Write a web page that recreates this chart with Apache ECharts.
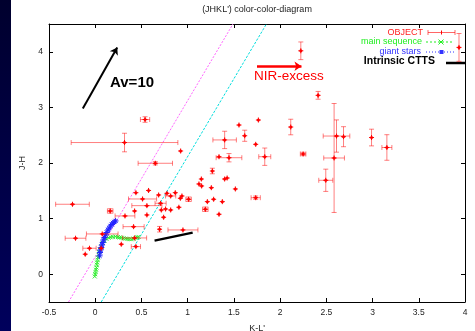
<!DOCTYPE html>
<html><head><meta charset="utf-8">
<script src="https://cdn.jsdelivr.net/npm/echarts@6/dist/echarts.min.js"></script>
<style>html,body{margin:0;padding:0;background:#fff}#c{width:475px;height:331px}</style>
</head><body><div id="c"></div>
<script>
// ---- data ----
const objX    = [0.317,0.924,0.539,0.650,-0.246,0.162,0.440,0.577,0.686,0.776,0.559,0.512,1.400,1.555,1.765,1.617,1.736,1.834,1.447,1.339,1.267,1.148,1.122,1.151,1.256,1.400,1.427,1.516,1.213,1.281,1.375,1.191,1.339,1.736,0.866,0.921,0.938,1.010,0.715,0.761,0.816,0.905,0.559,0.740,0.696,0.949,0.415,0.322,0.076,-0.213,-0.062,-0.108,0.065,0.282,0.440,0.426,2.224,3.935,2.411,2.115,2.249,2.610,2.686,2.584,2.494,2.989,3.155,0.426,0.707,0.816];
const objY    = [2.368,2.216,2.782,1.995,1.258,1.137,1.466,1.506,1.425,1.455,1.233,1.353,2.415,2.683,2.773,2.490,2.336,2.113,2.095,2.113,1.856,1.712,1.623,1.587,1.556,1.712,1.730,1.533,1.305,1.348,1.305,1.168,1.078,1.376,1.466,1.366,1.407,1.348,1.155,1.173,1.155,1.204,1.066,1.024,0.809,0.796,0.855,1.048,0.724,0.647,0.467,0.360,0.467,0.539,0.496,0.652,4.018,4.079,3.217,2.647,2.162,2.485,2.473,2.090,1.689,2.458,2.279,1.137,1.276,1.407];
const objXErr = [0.577,0,0.050,0.186,0.182,0.030,0,0,0,0,0.163,0.152,0.127,0,0,0,0,0.065,0.139,0,0,0,0,0,0,0,0,0,0,0,0,0.030,0,0.050,0,0,0,0.030,0,0,0,0,0,0,0,0.162,0.114,0.107,0.171,0.112,0.072,0,0,0,0.050,0.130,0,0,0,0,0.030,0.144,0,0.112,0.076,0,0.054,0,0.060,0.055];
const objYErr = [0.167,0,0.050,0.030,0,0.040,0,0,0,0,0,0,0.156,0,0,0.100,0,0.156,0.075,0,0.050,0,0,0,0,0,0,0,0,0,0,0.040,0,0.030,0,0,0,0.040,0,0,0,0,0,0,0.050,0,0,0,0,0,0,0,0,0,0,0,0.159,0.250,0.070,0.140,0.030,0.290,0.180,0.980,0.200,0.150,0.230,0,0,0];

const msX = [-0.005,0.000,0.004,0.009,0.013,0.017,0.021,0.025,0.030,0.036,0.042,0.050,0.065,0.080,0.100,0.122,0.145,0.166,0.190,0.220,0.245,0.263,0.285,0.307,0.330,0.350,0.372,0.393,0.415,0.436,0.455,0.469];
const msY = [-0.040,0.000,0.040,0.080,0.120,0.170,0.210,0.260,0.300,0.350,0.400,0.440,0.500,0.560,0.600,0.635,0.655,0.665,0.672,0.676,0.668,0.661,0.654,0.647,0.640,0.634,0.631,0.629,0.640,0.652,0.662,0.670];

const giantX = [0.047,0.052,0.057,0.065,0.074,0.082,0.090,0.100,0.112,0.125,0.139,0.152,0.166,0.180,0.193,0.207,0.220];
const giantY = [0.330,0.390,0.437,0.480,0.527,0.570,0.616,0.660,0.706,0.750,0.796,0.830,0.868,0.895,0.922,0.940,0.958];

const redMagX = [-0.289,1.490], redMagY = [-0.5,4.5];
const redCyanX = [0.065,1.852], redCyanY = [-0.5,4.5];
const cttsX = [0.642,1.054], cttsY = [0.604,0.748];
const avArrowX = [-0.134,0.238], avArrowY = [2.982,4.078];
const nirArrowX = [1.750,2.231], nirArrowY = [3.740,3.740];
const yTickValues = [0,1,2,3,4];

// ---- chart ----
const FONT = 'Liberation Sans, Arial, Helvetica, sans-serif';
const chart = echarts.init(document.getElementById('c'), null, {renderer:'canvas'});
const zip = (a,b) => a.map((v,i)=>[v,b[i]]);
const objData = objX.map((v,i)=>[v,objY[i],objXErr[i],objYErr[i]]);

function renderObj(params, api){
  const x=api.value(0), y=api.value(1), ex=api.value(2), ey=api.value(3);
  const c=api.coord([x,y]);
  const es={stroke:'rgba(255,0,0,0.5)', lineWidth:1};
  const cap=2.5, ch=[];
  const L=(x1,y1,x2,y2,s)=>ch.push({type:'line',shape:{x1,y1,x2,y2},style:s});
  if(ex>0){const l=api.coord([x-ex,y]), r=api.coord([x+ex,y]);
    L(l[0],l[1],r[0],r[1],es); L(l[0],l[1]-cap,l[0],l[1]+cap,es); L(r[0],r[1]-cap,r[0],r[1]+cap,es);}
  if(ey>0){const t=api.coord([x,y+ey]), b=api.coord([x,y-ey]);
    L(t[0],t[1],b[0],b[1],es); L(t[0]-cap,t[1],t[0]+cap,t[1],es); L(b[0]-cap,b[1],b[0]+cap,b[1],es);}
  const ps={stroke:'#ff0000', lineWidth:1};
  L(c[0]-2.5,c[1],c[0]+2.5,c[1],ps); L(c[0],c[1]-2.5,c[0],c[1]+2.5,ps);
  ch.push({type:'circle',shape:{cx:c[0],cy:c[1],r:1.5},style:{fill:'#ff0000'}});
  return {type:'group',children:ch};
}

const X_PATH='path://M0,0L10,10M10,0L0,10';
const AST_PATH='path://M5,0L5,10M0,5L10,5M1.5,1.5L8.5,8.5M8.5,1.5L1.5,8.5';

const axisCommon = {
  axisLine:{show:true,onZero:false,lineStyle:{color:'#000',width:1}},
  axisTick:{show:true,inside:true,length:4,lineStyle:{color:'#000'}},
  splitLine:{show:false},
};

const option = {
  animation:false,
  backgroundColor:'#ffffff',
  grid:{left:49,top:24,width:416,height:278,containLabel:false,outerBoundsMode:'none'},
  xAxis:[
    Object.assign({type:'value',min:-0.5,max:4,interval:0.5,position:'bottom',
      name:"K-L'",nameLocation:'middle',nameGap:22,
      nameTextStyle:{fontFamily:FONT,fontSize:9,color:'#222'},
      axisLabel:{fontFamily:FONT,fontSize:8.5,color:'#222',margin:6,showMinLabel:true,showMaxLabel:true}},axisCommon),
    Object.assign({type:'value',min:-0.5,max:4,interval:0.5,position:'top',axisLabel:{show:false}},axisCommon)
  ],
  yAxis:[
    Object.assign({type:'value',min:-0.5,max:4.5,position:'left',
      name:'J-H',nameLocation:'middle',nameGap:22,nameRotate:90,
      nameTextStyle:{fontFamily:FONT,fontSize:9,color:'#222'},
      axisLabel:{fontFamily:FONT,fontSize:8.5,color:'#222',margin:6,customValues:yTickValues},
      },axisCommon,{axisTick:{show:true,inside:true,length:4,lineStyle:{color:'#000'},customValues:yTickValues}}),
    Object.assign({type:'value',min:-0.5,max:4.5,position:'right',axisLabel:{show:false}},
      axisCommon,{axisTick:{show:true,inside:true,length:4,lineStyle:{color:'#000'},customValues:yTickValues}})
  ],
  series:[
    {type:'line',data:zip(redMagX,redMagY),symbol:'none',silent:true,
      lineStyle:{color:'#ff66ff',width:1,type:[2,1.5]},z:1},
    {type:'line',data:zip(redCyanX,redCyanY),symbol:'none',silent:true,
      lineStyle:{color:'#00dddd',width:1,type:[2.5,1.5]},z:1},
    {type:'line',data:zip(msX,msY),symbol:X_PATH,symbolSize:4,showAllSymbol:true,
      itemStyle:{color:'none',borderColor:'#33ee33',borderWidth:1},
      lineStyle:{color:'#33ee33',width:1,type:'dashed'},z:3},
    {type:'line',data:zip(giantX,giantY),symbol:AST_PATH,symbolSize:6,showAllSymbol:true,
      itemStyle:{color:'none',borderColor:'#2222ff',borderWidth:1},
      lineStyle:{color:'#2222ff',width:1,type:'dotted'},z:4},
    {type:'custom',renderItem:renderObj,data:objData,clip:true,z:5,
      encode:{x:0,y:1}},
    {type:'line',data:zip(cttsX,cttsY),symbol:'none',lineStyle:{color:'#000',width:2.5},z:6},
    {type:'lines',coordinateSystem:'cartesian2d',symbol:['none','arrow'],symbolSize:7,z:7,
      lineStyle:{color:'#000',width:2,opacity:1},
      data:[{coords:zip(avArrowX,avArrowY)}]},
    {type:'lines',coordinateSystem:'cartesian2d',symbol:['none','arrow'],symbolSize:7,z:7,
      lineStyle:{color:'#ff0000',width:2.5,opacity:1},
      data:[{coords:zip(nirArrowX,nirArrowY)}]}
  ],
  graphic:[
    {type:'rect',left:0,top:0,shape:{width:11,height:331},z:100,
      style:{fill:new echarts.graphic.LinearGradient(0,0,0,1,[{offset:0,color:'#00002e'},{offset:1,color:'#00005c'}])}},
    {type:'text',x:257,y:10,z:100,style:{text:"(JHKL') color-color-diagram",font:'9px '+FONT,fill:'#222',textAlign:'center',textVerticalAlign:'middle'}},
    {type:'text',x:110,y:83,z:100,style:{text:'Av=10',font:'bold 15px '+FONT,fill:'#000',textAlign:'left',textVerticalAlign:'middle'}},
    {type:'text',x:254,y:76,z:100,style:{text:'NIR-excess',font:'13.5px '+FONT,fill:'#ff0000',textAlign:'left',textVerticalAlign:'middle'}},
    // legend
    {type:'text',x:423,y:32.5,z:100,style:{text:'OBJECT',font:'9px '+FONT,fill:'#ff2020',textAlign:'right',textVerticalAlign:'middle'}},
    {type:'text',x:422,y:42,z:100,style:{text:'main sequence',font:'9px '+FONT,fill:'#22ee22',textAlign:'right',textVerticalAlign:'middle'}},
    {type:'text',x:421,y:52,z:100,style:{text:'giant stars',font:'9px '+FONT,fill:'#3333ff',textAlign:'right',textVerticalAlign:'middle'}},
    {type:'text',x:435,y:61.5,z:100,style:{text:'Intrinsic CTTS',font:'bold 10.5px '+FONT,fill:'#000',textAlign:'right',textVerticalAlign:'middle'}},
    {type:'group',z:100,children:[
      {type:'line',shape:{x1:428,y1:32.5,x2:455,y2:32.5},style:{stroke:'rgba(255,0,0,0.6)',lineWidth:1}},
      {type:'line',shape:{x1:428,y1:30,x2:428,y2:35},style:{stroke:'rgba(255,0,0,0.6)',lineWidth:1}},
      {type:'line',shape:{x1:455,y1:30,x2:455,y2:35},style:{stroke:'rgba(255,0,0,0.6)',lineWidth:1}},
      {type:'line',shape:{x1:441.5,y1:30.5,x2:441.5,y2:34.5},style:{stroke:'#ff0000',lineWidth:1}},
      {type:'line',shape:{x1:426,y1:42,x2:454,y2:42},style:{stroke:'#22ee22',lineWidth:1,lineDash:[2,2]}},
      {type:'line',shape:{x1:438.5,y1:39.5,x2:443.5,y2:44.5},style:{stroke:'#22ee22',lineWidth:1}},
      {type:'line',shape:{x1:443.5,y1:39.5,x2:438.5,y2:44.5},style:{stroke:'#22ee22',lineWidth:1}},
      {type:'line',shape:{x1:426,y1:52,x2:454,y2:52},style:{stroke:'#3333ff',lineWidth:1,lineDash:[1,2]}},
      {type:'rect',shape:{x:439.5,y:50,width:4,height:4},style:{fill:'#3333ff'}},
      {type:'line',shape:{x1:446,y1:63,x2:465,y2:63},style:{stroke:'#000',lineWidth:2.5}}
    ]}
  ]
};
chart.setOption(option);
</script></body></html>
